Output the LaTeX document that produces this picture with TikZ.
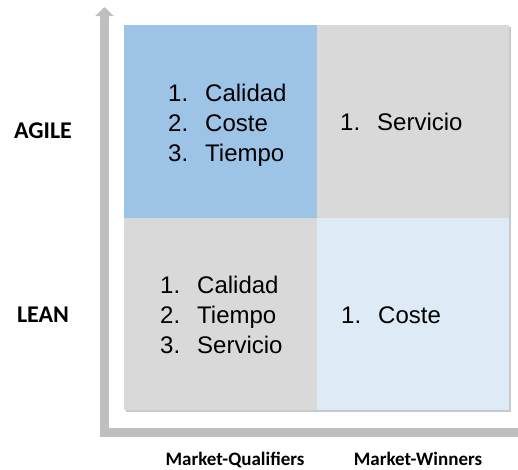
\documentclass[tikz,border=0pt]{standalone}
\usepackage{fontspec}
\setmainfont{Liberation Sans}
\newfontfamily\lblfont{Carlito}
\usetikzlibrary{arrows.meta,shadows}

\definecolor{agileblue}{RGB}{157,195,230}
\definecolor{leanblue}{RGB}{222,235,247}
\definecolor{cellgray}{RGB}{217,217,217}
\definecolor{axisgray}{RGB}{191,191,191}

\newcommand\ent[2]{\makebox[37pt][l]{#1}#2}

\begin{document}
\begin{tikzpicture}[x=1pt, y=-1pt,
  cell/.style={draw=none, minimum width=192.5pt, minimum height=192.5pt,
    inner sep=0pt, anchor=north west,
    drop shadow={shadow xshift=1.5pt, shadow yshift=-1.5pt, opacity=.3, fill=black!70}},
  list/.style={anchor=base west, inner sep=0pt, font=\fontsize{24}{30}\selectfont},
  side/.style={anchor=base, inner sep=0pt, font=\lblfont\bfseries\fontsize{24}{28}\selectfont},
  axislbl/.style={anchor=base, inner sep=0pt, font=\lblfont\bfseries\fontsize{19}{22}\selectfont}]

\useasboundingbox (0,0) rectangle (518,469);

% axes
\coordinate (xend) at (518,432.5);
\coordinate (corner) at (104.5,432.5);
\coordinate (ytip) at (104.5,7);
\draw[axisgray, line width=9pt, -{Triangle[width=18pt,length=9pt]}] (xend) -- (corner) -- (ytip);

% cells
\node[cell, fill=agileblue] (agq) at (124,25) {};
\node[cell, fill=cellgray] (agw) at (316.5,25) {};
\node[cell, fill=cellgray] (lnq) at (124,217.5) {};
\node[cell, fill=leanblue] (lnw) at (316.5,217.5) {};

% cell texts
\node[list] (agqtxt) at (168,101) {\begin{tabular}[t]{@{}l@{}}\ent{1.}{Calidad}\\\ent{2.}{Coste}\\\ent{3.}{Tiempo}\end{tabular}};
\node[list] (agwtxt) at (340,130) {\ent{1.}{Servicio}};
\node[list] (lnqtxt) at (160,293) {\begin{tabular}[t]{@{}l@{}}\ent{1.}{Calidad}\\\ent{2.}{Tiempo}\\\ent{3.}{Servicio}\end{tabular}};
\node[list] (lnwtxt) at (341,323) {\ent{1.}{Coste}};

% labels
\node[side] (agile) at (43,138) {AGILE};
\node[side] (lean) at (43,322) {LEAN};
\node[axislbl] (qual) at (235,465) {Market-Qualifiers};
\node[axislbl] (win) at (418,465) {Market-Winners};

\end{tikzpicture}
\end{document}
